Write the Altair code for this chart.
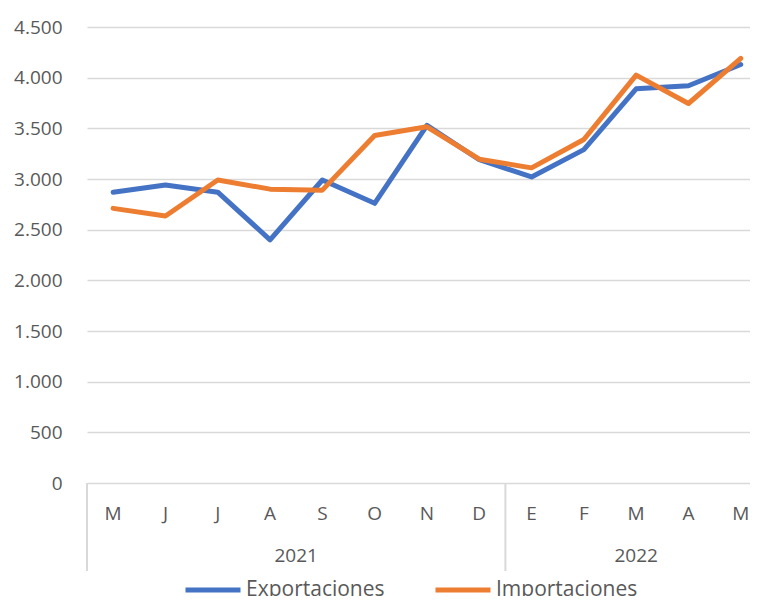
import altair as alt
import pandas as pd

months = ["M", "J", "J", "A", "S", "O", "N", "D", "E", "F", "M", "A", "M"]
years = ["2021"] * 8 + ["2022"] * 5
exportaciones = [2870, 2940, 2870, 2400, 2990, 2760, 3530, 3190, 3020, 3290, 3890, 3920, 4130]
importaciones = [2710, 2635, 2990, 2900, 2890, 3430, 3515, 3195, 3110, 3390, 4025, 3745, 4190]
series = ["Exportaciones", "Importaciones"]
colors = ["#4472C4", "#ED7D31"]
year_labels = ["2021", "2022"]

W = 663
H = 456
STEP = 52.3
D = W / STEP
FONT = "Open Sans"
GREY = "#595959"
LINE = "#d9d9d9"

rows = []
for i, m in enumerate(months):
    rows.append({"pos": i + 0.5, "mes": m, "anio": years[i], "serie": series[0], "valor": exportaciones[i]})
    rows.append({"pos": i + 0.5, "mes": m, "anio": years[i], "serie": series[1], "valor": importaciones[i]})
df = pd.DataFrame(rows)

mdf = pd.DataFrame({"pos": [i + 0.5 for i in range(len(months))], "mes": months})
ydf = pd.DataFrame({"anio": year_labels,
                    "pos": [years.index(y) + years.count(y) / 2 for y in year_labels]})
sdf = pd.DataFrame({"pos": [years.index(y) for y in year_labels]})

xscale = alt.Scale(domain=[0, D], nice=False, zero=False)

lines = alt.Chart(df).mark_line(strokeWidth=5, strokeCap="round", strokeJoin="round").encode(
    x=alt.X("pos:Q", scale=xscale, axis=None),
    y=alt.Y("valor:Q", scale=alt.Scale(domain=[0, 4500], nice=False),
            axis=alt.Axis(values=list(range(0, 4501, 500)), title=None, domain=False,
                          ticks=False, tickSize=0, labelPadding=25, labelFontSize=19,
                          labelFont=FONT, labelColor=GREY, gridColor=LINE, gridWidth=1.5,
                          labelExpr="replace(format(datum.value, ','), ',', '.')")),
    color=alt.Color("serie:N", scale=alt.Scale(domain=series, range=colors),
                    legend=alt.Legend(orient="none", legendX=96, legendY=533, direction="horizontal",
                                      title=None, symbolType="stroke", symbolSize=3025,
                                      symbolStrokeWidth=5, labelFontSize=21, labelFont=FONT,
                                      labelColor=GREY, labelOffset=3, columnPadding=40,
                                      padding=0)),
    order="pos:Q",
)

seps = alt.Chart(sdf).mark_rule(color=LINE, strokeWidth=2).encode(
    x=alt.X("pos:Q", scale=xscale),
    y=alt.value(H),
    y2=alt.value(H + 88),
)

mlab = alt.Chart(mdf).mark_text(fontSize=19, font=FONT, color=GREY, baseline="middle").encode(
    x=alt.X("pos:Q", scale=xscale),
    y=alt.value(H + 31),
    text="mes:N",
)

ylab = alt.Chart(ydf).mark_text(fontSize=19, font=FONT, color=GREY, baseline="middle").encode(
    x=alt.X("pos:Q", scale=xscale),
    y=alt.value(H + 73),
    text="anio:N",
)

chart = alt.layer(lines, seps, mlab, ylab).properties(
    width=W, height=H,
    padding={"left": 79, "top": 19, "right": 0, "bottom": 113},
    autosize=alt.AutoSizeParams(type="none"),
).configure_view(stroke=None)

chart.save("out.html", embed_options={"renderer": "svg", "actions": False})
